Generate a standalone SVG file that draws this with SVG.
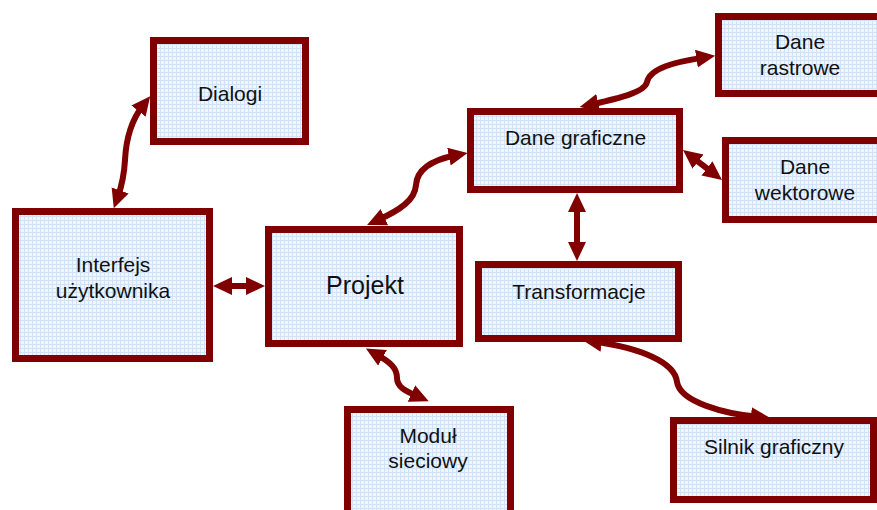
<svg xmlns="http://www.w3.org/2000/svg" width="877" height="510" viewBox="0 0 877 510">
<style>
.box{fill:url(#grid);stroke:#800000;stroke-width:7}
.t{font-family:"Liberation Sans",Arial,sans-serif;font-size:21px;fill:#111;text-anchor:middle}
.big{font-size:25px}
.c{fill:none;stroke:#800000;stroke-width:6;marker-start:url(#ah);marker-end:url(#ah)}
</style>
<defs>
<pattern id="grid" width="4" height="4" patternUnits="userSpaceOnUse">
<rect width="4" height="4" fill="#f0f6ff"/>
<path d="M0,0.5H4M0.5,0V4" stroke="#cfe2f8" stroke-width="1"/>
</pattern>
<marker id="ah" markerUnits="userSpaceOnUse" markerWidth="21" markerHeight="19" refX="7" refY="9" orient="auto-start-reverse">
<path d="M0,0 L19,9 L0,18 Z" fill="#800000"/>
</marker>
</defs>
<rect width="877" height="510" fill="#fff"/>
<g id="connectors">
<path class="c" d="M142.8,105.6 C130,122 126,140 125,160 C124,178 121,188 117.8,197"/>
<path class="c" d="M225,286 L253,286"/>
<path class="c" d="M378,220 C400,210 415,200 416,185 C417,170 432,160 455.8,155.3"/>
<path class="c" d="M591.4,104.4 C620,98 645,92 647,82 C650,68 675,62 703.3,57.6"/>
<path class="c" d="M692.5,157.3 L712.5,172.7"/>
<path class="c" d="M577,205 L577,249"/>
<path class="c" d="M594.8,341.8 C640,348 675,362 677,382 C680,402 725,414 758,416.8"/>
<path class="c" d="M376.4,354.4 C390,362 397,368 397,378 C397,388 408,392 417.8,396.4"/>
</g>
<g id="dialogi">
<rect class="box" x="153.5" y="40.5" width="152" height="101"/>
<text class="t" x="230" y="101">Dialogi</text>
</g>
<g id="interfejs">
<rect class="box" x="15.5" y="211.5" width="194" height="147"/>
<text class="t" x="113" y="272">Interfejs</text>
<text class="t" x="113" y="298">użytkownika</text>
</g>
<g id="projekt">
<rect class="box" x="268.5" y="229.5" width="191" height="114"/>
<text class="t big" x="365" y="294">Projekt</text>
</g>
<g id="dane-graficzne">
<rect class="box" x="470.5" y="111.5" width="209" height="78"/>
<text class="t" x="575.5" y="145">Dane graficzne</text>
</g>
<g id="dane-rastrowe">
<rect class="box" x="718.5" y="16.5" width="165" height="77"/>
<text class="t" x="800" y="49">Dane</text>
<text class="t" x="800" y="75">rastrowe</text>
</g>
<g id="dane-wektorowe">
<rect class="box" x="725.5" y="140.5" width="160" height="79"/>
<text class="t" x="805" y="174">Dane</text>
<text class="t" x="805" y="200">wektorowe</text>
</g>
<g id="transformacje">
<rect class="box" x="478.5" y="264.5" width="200" height="74"/>
<text class="t" x="579" y="299">Transformacje</text>
</g>
<g id="silnik">
<rect class="box" x="673.5" y="420.5" width="200" height="79"/>
<text class="t" x="774" y="454">Silnik graficzny</text>
</g>
<g id="modul">
<rect class="box" x="347.5" y="409.5" width="163" height="110"/>
<text class="t" x="428" y="443">Moduł</text>
<text class="t" x="428" y="468">sieciowy</text>
</g>
</svg>
